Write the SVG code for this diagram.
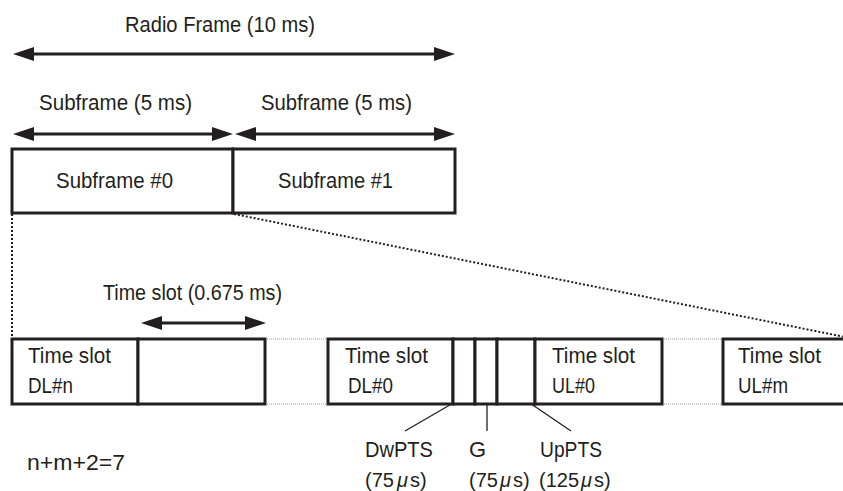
<svg xmlns="http://www.w3.org/2000/svg" width="843" height="491" viewBox="0 0 843 491">
<style>
text{font-family:"Liberation Sans",Arial,sans-serif;font-size:22px;fill:#231f20}
.sm{font-size:20px}
.mu{font-style:italic}
.box{fill:#fff;stroke:#231f20;stroke-width:3}
.arrow{stroke:#231f20;stroke-width:3;fill:none;marker-start:url(#ah);marker-end:url(#ah)}
.proj{stroke:#231f20;stroke-width:2;stroke-dasharray:2 2;fill:none}
.gap{stroke:#9a9a9a;stroke-width:1;stroke-dasharray:1 1;fill:none}
.lead{stroke:#231f20;stroke-width:1.3;fill:none}
</style>
<defs>
<marker id="ah" markerUnits="userSpaceOnUse" markerWidth="21" markerHeight="14" viewBox="0 0 21 14" refX="10" refY="7" orient="auto-start-reverse">
<path d="M0,0 L21,7 L0,14 Z" fill="#231f20"/>
</marker>
</defs>
<rect width="843" height="491" fill="#fff"/>

<g id="connectors">
<line class="arrow" x1="24" y1="54" x2="444" y2="54"/>
<line class="arrow" x1="24" y1="134" x2="222" y2="134"/>
<line class="arrow" x1="246" y1="134" x2="444" y2="134"/>
<line class="arrow" x1="152" y1="323" x2="255" y2="323"/>
<path class="proj" d="M12,214 V338"/>
<path class="proj" d="M234,214 L845,337"/>
<path class="gap" d="M265,339 H328 M265,404 H328 M662,339 H723 M662,404 H723"/>
<path class="lead" d="M467,395 L405,431 M487,395 V431 M518,395 L571,431"/>
</g>

<g id="radio-frame-label">
<text x="125" y="32" textLength="190" lengthAdjust="spacingAndGlyphs">Radio Frame (10 ms)</text>
</g>
<g id="subframe-labels">
<text x="39" y="110" textLength="153" lengthAdjust="spacingAndGlyphs">Subframe (5 ms)</text>
<text x="261" y="110" textLength="151" lengthAdjust="spacingAndGlyphs">Subframe (5 ms)</text>
</g>
<g id="subframe0">
<rect class="box" x="12" y="149" width="221" height="64"/>
<text x="56" y="188" textLength="117" lengthAdjust="spacingAndGlyphs">Subframe #0</text>
</g>
<g id="subframe1">
<rect class="box" x="233" y="149" width="222" height="64"/>
<text x="278" y="188" textLength="115" lengthAdjust="spacingAndGlyphs">Subframe #1</text>
</g>
<g id="timeslot-label">
<text x="103" y="300" textLength="179" lengthAdjust="spacingAndGlyphs">Time slot (0.675 ms)</text>
</g>
<g id="ts-dln">
<rect class="box" x="12" y="339" width="126" height="65"/>
<text x="28" y="363" textLength="83" lengthAdjust="spacingAndGlyphs">Time slot</text>
<text x="28" y="393" textLength="45" lengthAdjust="spacingAndGlyphs">DL#n</text>
</g>
<g id="ts-empty">
<rect class="box" x="138" y="339" width="127" height="65"/>
</g>
<g id="ts-dl0">
<rect class="box" x="328" y="339" width="125" height="65"/>
<text x="345" y="363" textLength="83" lengthAdjust="spacingAndGlyphs">Time slot</text>
<text x="348" y="393" textLength="45" lengthAdjust="spacingAndGlyphs">DL#0</text>
</g>
<g id="dwpts">
<rect class="box" x="453" y="339" width="22" height="65"/>
</g>
<g id="guard">
<rect class="box" x="475" y="339" width="22" height="65"/>
</g>
<g id="uppts">
<rect class="box" x="497" y="339" width="38" height="65"/>
</g>
<g id="ts-ul0">
<rect class="box" x="535" y="339" width="127" height="65"/>
<text x="552" y="363" textLength="83" lengthAdjust="spacingAndGlyphs">Time slot</text>
<text x="552" y="393" textLength="43" lengthAdjust="spacingAndGlyphs">UL#0</text>
</g>
<g id="ts-ulm">
<path class="box" d="M850,339 H723 V404 H850"/>
<text x="738" y="363" textLength="83" lengthAdjust="spacingAndGlyphs">Time slot</text>
<text x="738" y="393" textLength="50" lengthAdjust="spacingAndGlyphs">UL#m</text>
</g>
<g id="dwpts-label">
<text x="365" y="457" textLength="68" lengthAdjust="spacingAndGlyphs">DwPTS</text>
<text class="sm" x="365" y="487">(75</text>
<text class="sm mu" x="397" y="487">μ</text>
<text class="sm" x="410" y="487">s)</text>
</g>
<g id="g-label">
<text x="469" y="457">G</text>
<text class="sm" x="469" y="487">(75</text>
<text class="sm mu" x="500" y="487">μ</text>
<text class="sm" x="513" y="487">s)</text>
</g>
<g id="uppts-label">
<text x="540" y="457" textLength="62" lengthAdjust="spacingAndGlyphs">UpPTS</text>
<text class="sm" x="539" y="487">(125</text>
<text class="sm mu" x="581" y="487">μ</text>
<text class="sm" x="594" y="487">s)</text>
</g>
<g id="formula">
<text x="27" y="470" textLength="98" lengthAdjust="spacingAndGlyphs">n+m+2=7</text>
</g>
</svg>
